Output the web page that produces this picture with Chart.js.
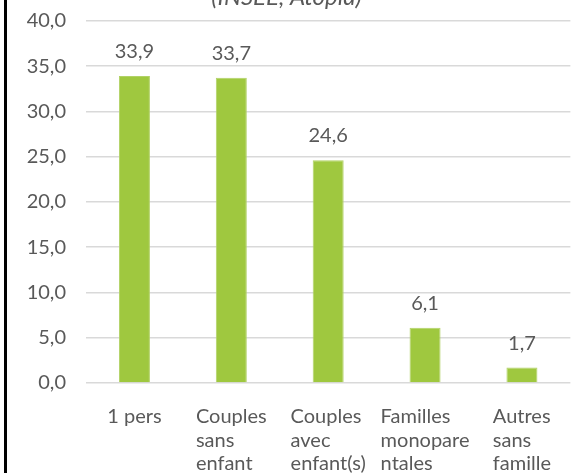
<!DOCTYPE html>
<html>
<head>
<meta charset="utf-8">
<script src="https://cdn.jsdelivr.net/npm/chart.js@4"></script>
<style>
  html, body { margin: 0; padding: 0; background: #fff; overflow: hidden; }
  #wrap { position: relative; width: 573px; height: 473px; overflow: hidden; }
  #frame { position: absolute; left: 4px; top: 0; width: 3px; height: 473px; background: #000; z-index: 2; }
  #box { position: absolute; left: 0; top: -20px; width: 573px; height: 493px; }
</style>
</head>
<body>
<div id="wrap">
  <div id="frame"></div>
  <div id="box"><canvas id="menages"></canvas></div>
</div>
<script>
// Répartition des ménages (%)
const categories = [
    ['1 pers'],
    ['Couples', 'sans', 'enfant'],
    ['Couples', 'avec', 'enfant(s)'],
    ['Familles', 'monopare', 'ntales'],
    ['Autres', 'sans', 'famille']
];
const parts = [33.9, 33.7, 24.6, 6.1, 1.7];
const yTicks = ['0,0', '5,0', '10,0', '15,0', '20,0', '25,0', '30,0', '35,0', '40,0'];

const fmt = v => v.toFixed(1).replace('.', ',');
const FONT = 'Lato, "Open Sans", sans-serif';
const GREY = '#595959';
const LABEL_SIZE = 20;
const LINE_H = 23.5;
const X_PAD = 22;

// value labels above each bar
const valueLabels = {
    id: 'valueLabels',
    afterDatasetsDraw(chart) {
        const ctx = chart.ctx;
        const meta = chart.getDatasetMeta(0);
        ctx.save();
        ctx.font = LABEL_SIZE + 'px ' + FONT;
        ctx.fillStyle = GREY;
        ctx.textAlign = 'center';
        ctx.textBaseline = 'alphabetic';
        meta.data.forEach((bar, i) => {
            ctx.fillText(fmt(parts[i]), bar.x, bar.y - 18);
        });
        ctx.restore();
    }
};

// category labels: block centred on the tick, lines left aligned (like Excel)
const catLabels = {
    id: 'catLabels',
    afterDraw(chart) {
        const ctx = chart.ctx;
        const sx = chart.scales.x;
        ctx.save();
        ctx.font = LABEL_SIZE + 'px ' + FONT;
        ctx.fillStyle = GREY;
        ctx.textAlign = 'left';
        ctx.textBaseline = 'middle';
        categories.forEach((lines, i) => {
            const x = sx.getPixelForTick(i);
            const w = Math.max(...lines.map(l => ctx.measureText(l).width));
            lines.forEach((l, j) => {
                ctx.fillText(l, x - w / 2, sx.top + X_PAD + LINE_H * (j + 0.5));
            });
        });
        ctx.restore();
    }
};

const ctx = document.getElementById('menages').getContext('2d');
const chart = new Chart(ctx, {
    type: 'bar',
    data: {
        labels: categories,
        datasets: [{
            data: parts,
            backgroundColor: '#9fc83f',
            borderColor: '#b1d266',
            borderWidth: 1,
            barPercentage: 0.32,
            categoryPercentage: 1
        }]
    },
    options: {
        responsive: true,
        maintainAspectRatio: false,
        animation: false,
        layout: { padding: 0 },
        plugins: {
            legend: { display: false },
            tooltip: { enabled: false },
            title: {
                display: true,
                text: '(INSEE, Atopia)',
                color: GREY,
                font: { family: FONT, size: 24, style: 'italic', weight: 'normal', lineHeight: 1.2 },
                padding: { top: 3, bottom: 9 }
            }
        },
        scales: {
            x: {
                grid: { display: false, drawTicks: false },
                border: { display: false },
                afterFit: scale => { scale.height = 90; },
                ticks: {
                    color: 'rgba(0,0,0,0)',
                    font: { family: FONT, size: LABEL_SIZE, lineHeight: LINE_H / LABEL_SIZE },
                    padding: X_PAD,
                    maxRotation: 0,
                    autoSkip: false
                }
            },
            y: {
                min: 0,
                max: 40,
                afterFit: scale => { scale.width = 86; },
                grid: { color: '#d9d9d9', lineWidth: 1.4, drawTicks: false },
                border: { display: false },
                ticks: {
                    stepSize: 5,
                    color: GREY,
                    padding: 20,
                    font: { family: FONT, size: LABEL_SIZE },
                    callback: (v, i) => yTicks[i]
                }
            }
        }
    },
    plugins: [valueLabels, catLabels]
});
</script>
</body>
</html>
